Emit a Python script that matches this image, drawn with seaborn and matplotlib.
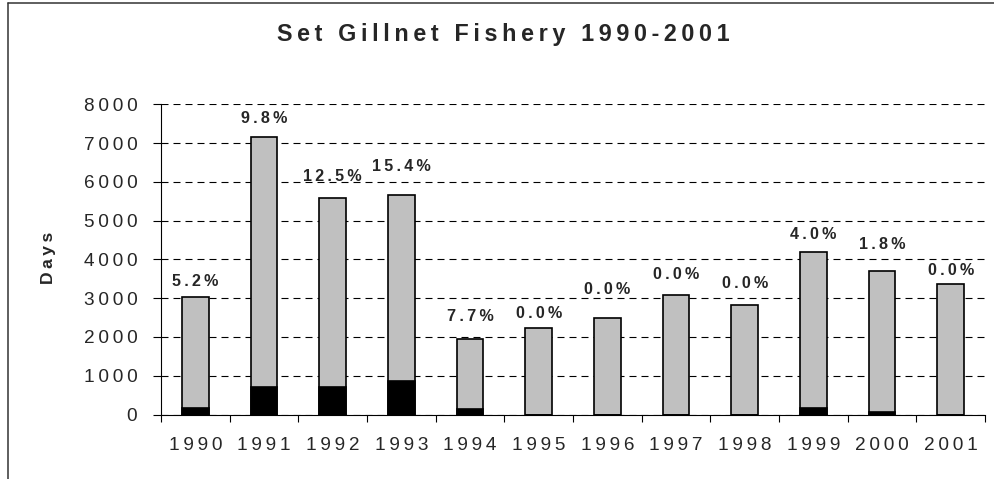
import numpy as np
import pandas as pd
import matplotlib
matplotlib.use("Agg")
import matplotlib.pyplot as plt
import seaborn as sns
from matplotlib.lines import Line2D
from matplotlib.ticker import FixedLocator

# Effort (days) per season and share of those days that were observed
years = ["1990", "1991", "1992", "1993", "1994", "1995",
         "1996", "1997", "1998", "1999", "2000", "2001"]
total_days = [3040, 7160, 5580, 5670, 1940, 2230, 2490, 3090, 2830, 4180, 3710, 3370]
observed_pct = [5.2, 9.8, 12.5, 15.4, 7.7, 0.0, 0.0, 0.0, 0.0, 4.0, 1.8, 0.0]
y_ticks = [0, 1000, 2000, 3000, 4000, 5000, 6000, 7000, 8000]

# vertical lift of each percentage label above its bar (points)
label_lift = [10.8, 13.0, 15.8, 20.2, 16.3, 10.6, 20.2, 14.2, 15.4, 13.0, 18.5, 9.9]

sns.set_style("white")
plt.rcParams["font.family"] = ["Liberation Sans", "DejaVu Sans"]

THIN = "\u2009"


def spaced(s):
    return THIN.join(s)


observed_days = [t * p / 100.0 for t, p in zip(total_days, observed_pct)]
df = pd.DataFrame({"year": years, "total": total_days, "observed": observed_days})

fig = plt.figure(figsize=(9.94, 4.79), dpi=100)
ax = fig.add_axes([161 / 994, (479 - 414.5) / 479, (985 - 161) / 994, (414.5 - 104.3) / 479])
ax.set_axisbelow(True)

sns.barplot(data=df, x="year", y="total", color="#C0C0C0", saturation=1,
            edgecolor="black", linewidth=1.2, width=0.39, ax=ax, zorder=3)
sns.barplot(data=df, x="year", y="observed", color="black", saturation=1,
            edgecolor="black", linewidth=1.2, width=0.39, ax=ax, zorder=4)

ax.set_xlim(-0.5, 11.5)
ax.set_ylim(0, 8000)
ax.set_xlabel("")
ax.set_ylabel("")

ax.set_yticks(y_ticks)
ax.set_yticklabels([spaced(str(t)) for t in y_ticks], fontsize=13.7)
ax.set_xticks(range(len(years)))
ax.set_xticklabels([spaced(y) for y in years], fontsize=13.7)

ax.yaxis.grid(True, color="black", linewidth=0.8, linestyle=(0, (6.3, 4.5)))
ax.xaxis.grid(False)

ax.tick_params(axis="y", left=True, length=5.8, width=0.8, pad=11.3, color="black")
ax.tick_params(axis="x", which="major", bottom=True, length=0, pad=16)
ax.xaxis.set_minor_locator(FixedLocator(np.arange(-0.5, 12, 1)))
ax.tick_params(axis="x", which="minor", bottom=True, length=5, width=0.8, color="black")

for side in ("top", "right"):
    ax.spines[side].set_visible(False)
for side in ("left", "bottom"):
    ax.spines[side].set_color("black")
    ax.spines[side].set_linewidth(0.8)

for i, (t, p) in enumerate(zip(total_days, observed_pct)):
    ax.annotate(spaced(f"{p:.1f}%"), xy=(i, t), xytext=(0, label_lift[i]),
                textcoords="offset points", ha="center", va="center",
                fontsize=11.6, fontweight="bold", zorder=5)

fig.text(503.5 / 994, 1 - 35 / 479, spaced("Set Gillnet Fishery 1990-2001"),
         ha="center", va="center", fontsize=16.8, fontweight="bold")
fig.text(49 / 994, 1 - 258 / 479, spaced("Days"), rotation=90,
         ha="center", va="center", fontsize=12.6, fontweight="bold")

# chart-area frame along the top and left edges
fig.add_artist(Line2D([8 / 994, 1.0], [1 - 2.7 / 479] * 2, transform=fig.transFigure,
                      color="#333333", linewidth=1.1))
fig.add_artist(Line2D([8 / 994] * 2, [0.0, 1 - 2.7 / 479], transform=fig.transFigure,
                      color="#333333", linewidth=1.1))

fig.savefig("out.png", dpi=100)
